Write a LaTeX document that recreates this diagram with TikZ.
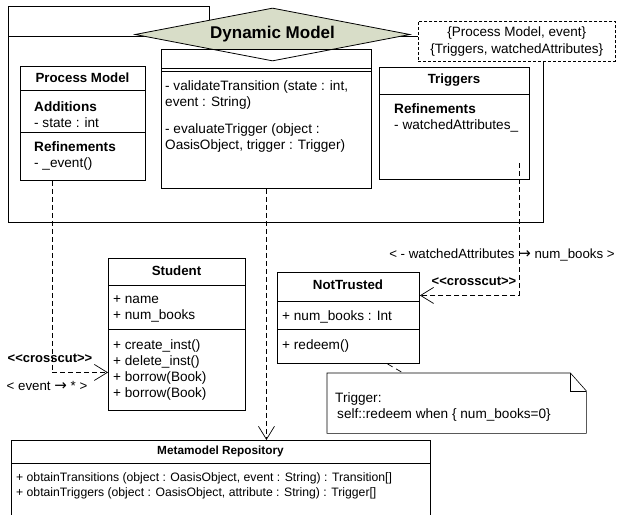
\documentclass[tikz,border=0pt]{standalone}
\usepackage{fontspec}
\setmainfont{Liberation Sans}[Ligatures=TeXOff]
\newfontfamily\arrowfont{DejaVu Sans}
\usetikzlibrary{calc,positioning,arrows.meta,shapes.geometric}
\definecolor{dmfill}{RGB}{216,221,200}
\newcommand{\toarrow}{{\arrowfont\fontsize{15}{15}\selectfont →}}

\begin{document}
\begin{tikzpicture}[x=1pt,y=-1pt,
    box/.style={draw,line width=0.9pt,fill=white,anchor=north west,inner sep=0pt},
    hdr/.style={font=\bfseries\fontsize{13.3}{16}\selectfont,inner sep=0pt},
    txt/.style={font=\fontsize{13.6}{16}\selectfont,align=left,anchor=north west,inner sep=0pt},
    lbl/.style={font=\fontsize{13.3}{16}\selectfont,inner sep=0pt},
    sep/.style={line width=0.7pt},
    dep/.style={dash pattern=on 5pt off 3pt,line width=0.7pt,
      -{Straight Barb[length=13pt,width=16pt,line width=0.7pt]}}]

  \useasboundingbox (0,0) rectangle (617,514);
  \clip (0,0) rectangle (617,514);

  % package
  \node[box,minimum width=535pt,minimum height=186pt] (pkg) at (8,36) {};
  \node[box,minimum width=201pt,minimum height=30pt] (tab) at (8,6) {};
  \node[diamond,fill=dmfill,minimum width=275pt,minimum height=53pt,aspect=5.2,inner sep=0pt] (dm) at (272.5,34.5) {};

  % dynamic model class
  \node[box,minimum width=210pt,minimum height=139pt] (dyn) at (161,49) {};
  \draw[sep] ([yshift=-19pt]dyn.north west) -- ([yshift=-19pt]dyn.north east);
  \draw[sep] ([yshift=-22pt]dyn.north west) -- ([yshift=-22pt]dyn.north east);
  \node[txt] (dynop1) at (165,80) {- validateTransition (state : int,\\event : String)};
  \node[txt] (dynop2) at (165,123) {- evaluateTrigger (object :\\OasisObject, trigger : Trigger)};
  \node[diamond,draw,line width=0.8pt,minimum width=275pt,minimum height=53pt,aspect=5.2,inner sep=0pt,
    font=\bfseries\fontsize{17}{20}\selectfont] (dmtitle) at (dm) {Dynamic Model};

  % constraint
  \node[draw,dash pattern=on 3pt off 2pt,line width=0.6pt,fill=white,anchor=north west,inner sep=0pt,
    minimum width=197pt,minimum height=40pt,align=center,font=\fontsize{13.5}{16.5}\selectfont] (cons) at (418,21)
    {\{Process Model, event\}\\\{Triggers, watchedAttributes\}};

  % process model
  \node[box,minimum width=125pt,minimum height=114pt] (pm) at (20,66) {};
  \draw[sep] ([yshift=-24pt]pm.north west) -- ([yshift=-24pt]pm.north east);
  \draw[sep] ([yshift=-66pt]pm.north west) -- ([yshift=-66pt]pm.north east);
  \node[hdr] (pmname) at (82.5,78) {Process Model};
  \node[txt] (pmadd) at (34,101) {\textbf{Additions}\\- state : int};
  \node[txt] (pmref) at (34,141) {\textbf{Refinements}\\- \_event()};

  % triggers
  \node[box,minimum width=150pt,minimum height=112pt] (tr) at (379,67) {};
  \draw[sep] ([yshift=-27pt]tr.north west) -- ([yshift=-27pt]tr.north east);
  \node[hdr] (trname) at (454,80) {Triggers};
  \node[txt] (trref) at (394,103) {\textbf{Refinements}\\- watchedAttributes\_};

  % student
  \node[box,minimum width=137pt,minimum height=152pt] (st) at (108,258) {};
  \draw[sep] ([yshift=-27pt]st.north west) -- ([yshift=-27pt]st.north east);
  \draw[sep] ([yshift=-71pt]st.north west) -- ([yshift=-71pt]st.north east);
  \node[hdr] (stname) at (176.5,271) {Student};
  \node[txt] (statt) at (113,295) {+ name\\+ num\_books};
  \node[txt] (stop) at (113,339) {+ create\_inst()\\+ delete\_inst()\\+ borrow(Book)\\+ borrow(Book)};

  % not trusted
  \node[box,minimum width=142pt,minimum height=91pt] (nt) at (277,272) {};
  \draw[sep] ([yshift=-29pt]nt.north west) -- ([yshift=-29pt]nt.north east);
  \draw[sep] ([yshift=-57pt]nt.north west) -- ([yshift=-57pt]nt.north east);
  \node[hdr] (ntname) at (348,285) {NotTrusted};
  \node[txt] (ntatt) at (282,310) {+ num\_books : Int};
  \node[txt] (ntop) at (282,339) {+ redeem()};

  % note
  \node[anchor=north west,inner sep=0pt,minimum width=259pt,minimum height=60pt] (note) at (327,373) {};
  \draw[line width=0.6pt,fill=white] (note.north west) -- ([xshift=-16pt]note.north east)
    -- ([yshift=-18pt]note.north east) -- (note.south east) -- (note.south west) -- cycle;
  \draw[line width=1pt] ([xshift=-16pt]note.north east) |- ([yshift=-18pt]note.north east);
  \node[txt] (notetxt) at (335,392) {Trigger:\\\hspace*{2pt}self::redeem when \{ num\_books=0\}};
  \draw[dash pattern=on 6pt off 4pt,line width=0.7pt] ([xshift=39pt]nt.south) -- ([xshift=-53.5pt]note.north);

  % metamodel repository
  \node[box,minimum width=419pt,minimum height=90pt] (mm) at (11,440) {};
  \draw[sep] ([yshift=-23pt]mm.north west) -- ([yshift=-23pt]mm.north east);
  \node[hdr,font=\bfseries\fontsize{11.8}{14}\selectfont] (mmname) at (220.5,451) {Metamodel Repository};
  \node[txt,font=\fontsize{12.2}{15}\selectfont] (mmop) at (16,472)
    {+ obtainTransitions (object : OasisObject, event : String) : Transition[]\\
     + obtainTriggers (object : OasisObject, attribute : String) : Trigger[]};

  % dependencies
  \draw[dep] ([xshift=-31pt]pm.south) |- ([yshift=-38pt]st.west);
  \node[lbl,font=\bfseries\fontsize{13}{16}\selectfont] (cc1) at (50,358) {<<crosscut>>};
  \node[lbl] (ev) at (47,386) {< event \toarrow{} * >};

  \draw[dep] (dyn.south) -- (dyn.south |- mm.north);

  \draw[dep] ([xshift=65pt,yshift=-40pt]tr.center) |- ([yshift=22.5pt]nt.east);
  \node[lbl] (wa) at (502,255) {< - watchedAttributes \toarrow{} num\_books >};
  \node[lbl,font=\bfseries\fontsize{13}{16}\selectfont] (cc2) at (474,281) {<<crosscut>>};
\end{tikzpicture}
\end{document}
